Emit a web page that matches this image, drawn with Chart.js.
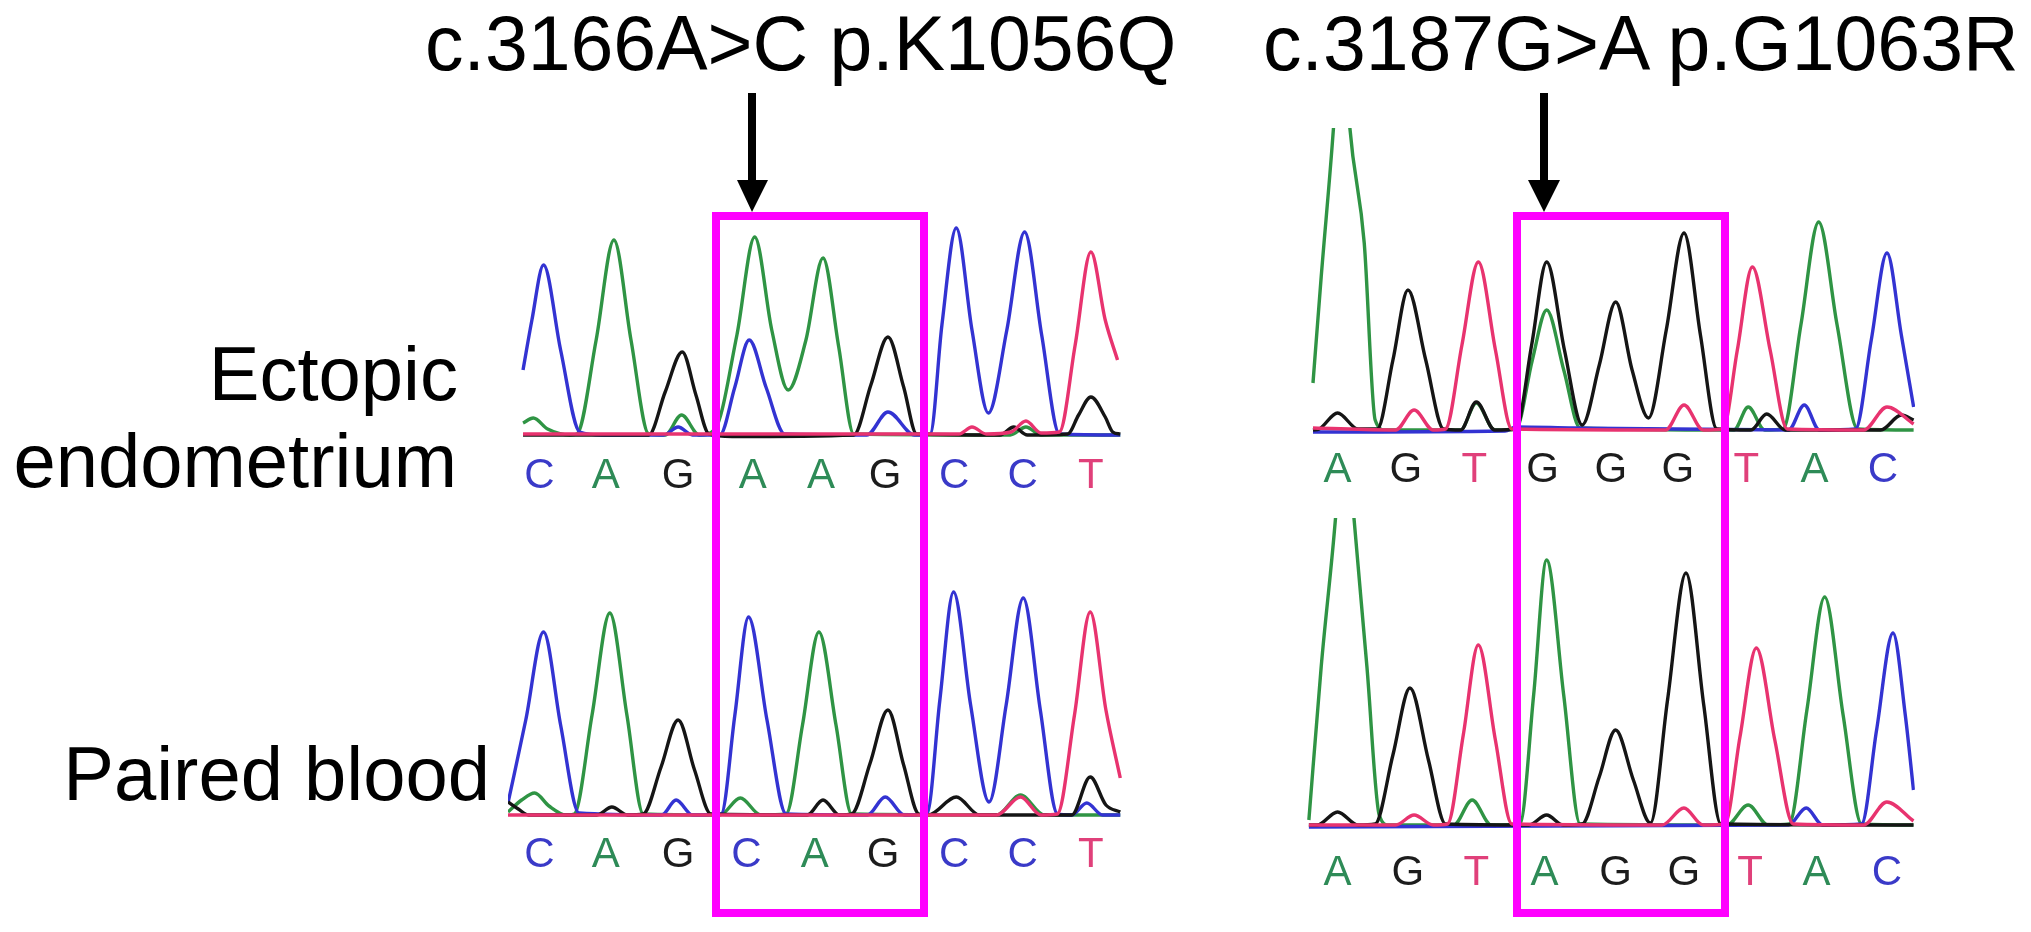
<!DOCTYPE html>
<html>
<head>
<meta charset="utf-8">
<script src="https://cdn.jsdelivr.net/npm/chart.js@4.4.1/dist/chart.umd.min.js"></script>
<style>
html, body { margin: 0; background: #fff; }
body { width: 2031px; height: 932px; position: relative; overflow: hidden; }
canvas { position: absolute; }
svg { position: absolute; left: 0; top: 0; font-family: Arial, "Liberation Sans", sans-serif; }
</style>
</head>
<body>
<canvas id="tl"></canvas>
<canvas id="bl"></canvas>
<canvas id="tr"></canvas>
<canvas id="br"></canvas>

<svg width="2031" height="932">
  <text x="425" y="70" font-size="77">c.3166A&gt;C p.K1056Q</text>
  <text x="1263" y="70" font-size="77">c.3187G&gt;A p.G1063R</text>
  <g font-size="76" text-anchor="end">
    <text x="458" y="400">Ectopic</text>
    <text x="457" y="487">endometrium</text>
    <text x="490" y="800">Paired blood</text>
  </g>
  <rect x="748" y="93" width="8" height="90" fill="#000"/>
  <polygon points="737,180 768,180 752,212" fill="#000"/>
  <rect x="1540" y="93" width="8" height="90" fill="#000"/>
  <polygon points="1528,180 1560,180 1544,212" fill="#000"/>
  <rect x="716" y="216" width="208" height="697" fill="none" stroke="#ff00ff" stroke-width="8"/>
  <rect x="1517" y="216" width="208" height="697" fill="none" stroke="#ff00ff" stroke-width="8"/>
</svg>

<script>
/* TRACES: [scan, signal] */

// ectopic endometrium, c.3166A>C
const tlA = [[2.2,120],[3.7,170],[5.8,60],[9.1,0],[10.1,10],[12.9,950],[15.5,1950],[18,950],[20.6,10],[23,0],[25.4,200],[28,0],[30.3,60],[33.5,1000],[36.1,1980],[38.6,1050],[41,450],[43.6,950],[46.1,1770],[48.4,880],[50.6,10],[73.5,0],[75.8,80],[78,0],[89.6,0]];
const tlC = [[2.2,650],[3.5,1150],[5.2,1700],[7.7,850],[10.5,30],[14,0],[22.8,0],[24.9,80],[27,0],[31,0],[33.2,480],[35.3,950],[37.8,470],[40.5,10],[52.5,0],[55.6,230],[59.5,0],[61.8,10],[63.5,1100],[65.6,2070],[67.9,1050],[70.3,220],[73,1050],[75.6,2030],[78.1,1000],[80.7,10],[89.6,0]];
const tlG = [[2.2,0],[20.6,0],[23,430],[25.5,830],[27.5,400],[29.4,10],[32.8,-15],[50.6,0],[53.1,500],[55.6,980],[57.9,480],[59.8,10],[72,0],[74,80],[76,0],[81.9,10],[83.5,200],[85.3,380],[87.4,180],[88.5,30],[89.6,10]];
const tlT = [[2.2,10],[66,10],[67.9,80],[70,10],[73.6,30],[75.8,140],[78,20],[80.7,30],[83,900],[85.3,1830],[87.4,1150],[89.2,750]];
const tlCalls = ["C","A","G","A","A","G","C","C","T"];
const tlPos = [4.6,14.3,24.9,35.8,45.8,55.2,65.3,75.3,85.3];

// paired blood, c.3166 site
const blA = [[0,30],[2,150],[3.9,220],[6,90],[8.5,0],[9.7,10],[12.3,1000],[14.9,2020],[17.4,1000],[19.8,10],[31,0],[34,170],[37,0],[40.7,10],[43.1,900],[45.5,1830],[48,900],[50.3,10],[71.5,0],[75,200],[78.5,0],[89.6,0]];
const blC = [[0,120],[2.6,950],[5.2,1830],[7.7,900],[10.4,20],[22.5,0],[24.6,150],[27,0],[31.2,10],[33.2,1000],[35.2,1980],[37.9,950],[40.7,10],[52.6,0],[55.2,180],[58,0],[61.3,10],[63.2,1150],[65.2,2230],[67.7,1100],[70.4,130],[72.9,1100],[75.4,2170],[77.9,1050],[80.4,10],[82.5,0],[84.7,120],[87,0],[89.6,0]];
const blG = [[0,130],[1.5,60],[3,0],[13,0],[15.2,80],[17.5,0],[19.8,10],[22.4,480],[24.9,950],[27.3,450],[29.7,10],[43.8,0],[46.1,150],[48.5,0],[50.3,10],[53,520],[55.6,1050],[57.9,500],[60.1,10],[61.5,0],[65.6,180],[69,0],[82.5,0],[85.2,380],[87.5,100],[89.6,30]];
const blT = [[0,0],[71.5,0],[75,180],[78,0],[80.4,10],[82.9,1000],[85.2,2030],[87.5,1050],[89.6,370]];
const blCalls = ["C","A","G","C","A","G","C","C","T"];
const blPos = [4.6,14.3,24.9,34.9,44.9,54.9,65.3,75.3,85.3];

// ectopic endometrium, c.3187G>A
const trA = [[1.9,470],[3.1,1530],[4.9,3020],[6.1,4300],[7.3,3020],[9.4,1870],[11,100],[12.5,0],[23.5,0],[25.8,270],[28.5,0],[31.6,10],[34,700],[36.1,1200],[38.6,600],[41,20],[63.5,0],[65.6,230],[68,0],[70.7,10],[73.3,1050],[75.9,2080],[78.6,1050],[81.6,10],[89.8,0]];
const trC = [[1.9,-20],[30,-10],[31.6,30],[40,20],[71.5,0],[73.8,250],[76,0],[81.3,10],[83.6,900],[85.9,1770],[88,950],[89.8,230]];
const trG = [[1.9,0],[2.8,10],[5.5,170],[8.5,10],[11.3,10],[13.6,700],[15.8,1400],[18.4,700],[21,10],[23.5,0],[25.8,280],[28.5,0],[31.6,10],[33.9,850],[36.1,1680],[38.7,800],[41.3,50],[43.8,650],[46.2,1280],[48.6,600],[51,120],[53.6,1000],[56.2,1970],[58.6,950],[61,10],[66,0],[68.3,160],[71,0],[85,0],[88,150],[89.8,100]];
const trT = [[1.9,20],[14,0],[16.7,200],[19.5,0],[21.3,10],[23.7,850],[26.1,1680],[28.6,800],[31,10],[53.5,0],[56.2,250],[59,0],[61.9,10],[64,800],[66.2,1630],[68.8,800],[71.3,10],[82.5,0],[85.9,230],[89.8,60]];
const trCalls = ["A","G","T","G","G","G","T","A","C"];
const trPos = [5.5,15.5,25.5,35.5,45.5,55.3,65.3,75.3,85.3];

// paired blood, c.3187 site
const brA = [[1.3,50],[3.1,1580],[5.2,3070],[6.5,4300],[7.9,3070],[9.8,1580],[11.6,100],[13,0],[22.5,0],[25.2,250],[28,0],[32.2,10],[34.2,1300],[36.1,2650],[38.6,1300],[41,10],[62.5,0],[65.6,200],[68.5,0],[71.6,10],[74.2,1150],[76.8,2280],[79.5,1100],[82.2,10],[89.8,0]];
const brC = [[1.3,-20],[71.5,0],[74.1,170],[76.5,0],[82.2,10],[84.4,950],[86.8,1920],[88.6,1100],[89.8,350]];
const brG = [[1.3,0],[2.5,0],[5.5,130],[8.5,0],[11,10],[13.6,700],[16.1,1370],[18.8,650],[21.3,10],[33.5,0],[36.1,100],[38.5,0],[41.3,10],[43.8,480],[46.2,950],[48.8,450],[51.3,20],[53.8,1250],[56.5,2520],[59.1,1200],[61.6,10],[89.8,0]];
const brT = [[1.3,0],[14,0],[16.7,100],[19.5,0],[21.6,10],[23.9,900],[26.1,1800],[28.6,850],[31,10],[53,0],[56.2,170],[59,0],[62.2,10],[64.4,880],[66.8,1770],[69.5,850],[72.2,10],[82.5,0],[85.9,230],[89.8,40]];
const brCalls = ["A","G","T","A","G","G","T","A","C"];
const brPos = [5.5,15.8,25.8,35.8,46.2,56.2,65.9,75.6,85.9];

/* STYLE */
const traceColor = { A: "#2f9444", C: "#3333d2", G: "#151515", T: "#e8336f" };
const callColor = { A: "#2e8b57", C: "#3a3ac8", G: "#1c1c1c", T: "#e0407a" };
const FONT = 42, SCAN_MAX = 90, Y_MIN = -100, PER_PX = 10, AXIS_H = 75;

/* PANEL */
function panel(id, left, base, yMax, pad, tr, calls, pos) {
  const el = document.getElementById(id);
  const top = base - yMax / PER_PX;
  const plotH = (yMax - Y_MIN) / PER_PX;
  el.width = 615;
  el.height = plotH + AXIS_H;
  el.style.left = left + "px";
  el.style.top = top + "px";

  // T first so it is painted last (on top)
  const sets = ["T", "G", "C", "A"].map(b => ({
    data: tr[b].map(p => ({ x: p[0], y: p[1] })),
    borderColor: traceColor[b],
    borderWidth: 3.4,
    pointRadius: 0,
    cubicInterpolationMode: "monotone",
    clip: 0
  }));

  new Chart(el, {
    type: "line",
    data: { datasets: sets },
    options: {
      responsive: false,
      animation: false,
      layout: { padding: 0 },
      plugins: { legend: { display: false }, tooltip: { enabled: false } },
      scales: {
        x: {
          type: "linear", min: 0, max: SCAN_MAX,
          grid: { display: false, drawTicks: false }, border: { display: false },
          afterBuildTicks: ax => { ax.ticks = pos.map(v => ({ value: v })); },
          afterFit: ax => { ax.height = AXIS_H; },
          ticks: {
            autoSkip: false, maxRotation: 0, padding: pad,
            font: { family: "Arial, 'Liberation Sans', sans-serif", size: FONT },
            color: c => callColor[calls[c.index]],
            callback: (v, i) => calls[i]
          }
        },
        y: { display: false, min: Y_MIN, max: yMax }
      }
    }
  });
}

panel("tl", 508, 435, 2400, 6, { A: tlA, C: tlC, G: tlG, T: tlT }, tlCalls, tlPos);
panel("bl", 508, 815, 2400, 5, { A: blA, C: blC, G: blG, T: blT }, blCalls, blPos);
panel("tr", 1300, 430, 3020, 5, { A: trA, C: trC, G: trG, T: trT }, trCalls, trPos);
panel("br", 1300, 825, 3070, 13, { A: brA, C: brC, G: brG, T: brT }, brCalls, brPos);
</script>
</body>
</html>
